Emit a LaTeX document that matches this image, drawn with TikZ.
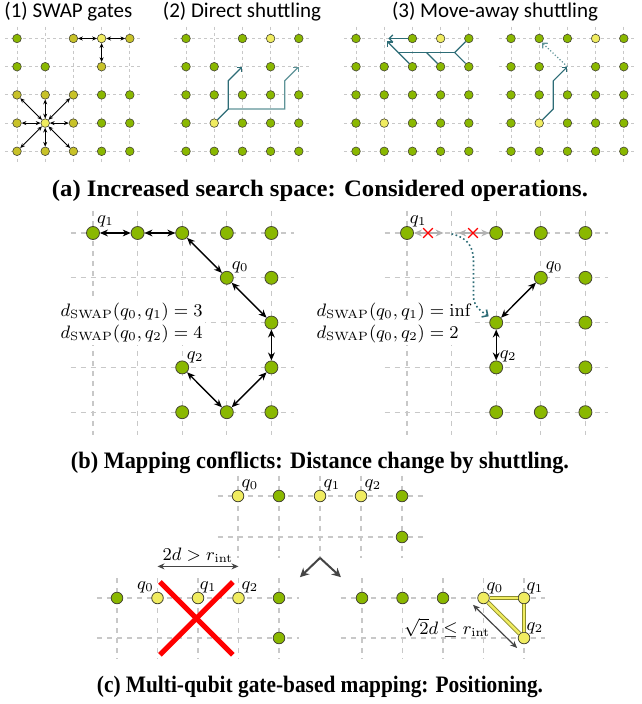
\documentclass[tikz,border=0pt]{standalone}
\usepackage[no-math]{fontspec}
\usetikzlibrary{arrows.meta,shapes.misc}
\newfontfamily\capfont{Liberation Serif}
\newfontfamily\titlefont{Carlito}
\definecolor{qgreen}{RGB}{138,184,0}
\definecolor{qolive}{RGB}{200,194,40}
\definecolor{qyellow}{RGB}{240,236,96}
\definecolor{qborder}{RGB}{70,70,50}
\definecolor{gridgray}{RGB}{200,200,200}
\definecolor{shuttle}{RGB}{45,108,118}
\definecolor{shuttlelight}{RGB}{95,148,152}
\definecolor{darkarrow}{RGB}{68,68,68}
\definecolor{blockedgray}{RGB}{178,178,178}
\definecolor{bandolive}{RGB}{140,140,45}
\tikzset{
  dotA/.style={circle, inner sep=0pt, minimum size=4.3pt, draw=qborder, line width=0.3pt},
  ga/.style={dotA, fill=qgreen}, oa/.style={dotA, fill=qolive}, ya/.style={dotA, fill=qyellow},
  dotB/.style={circle, inner sep=0pt, minimum size=6.5pt, draw=qborder, line width=0.4pt},
  gb/.style={dotB, fill=qgreen},
  dotC/.style={circle, inner sep=0pt, minimum size=5.8pt, draw=qborder, line width=0.4pt},
  gc/.style={dotC, fill=qgreen}, yc/.style={dotC, fill=qyellow},
  gridA/.style={draw=gridgray, line width=0.4pt, dash pattern=on 1.5pt off 1.5pt},
  gridB/.style={draw=gridgray, line width=0.6pt, dash pattern=on 2.5pt off 2.5pt},
  swapA/.style={{Stealth[length=2.4pt,width=2pt]}-{Stealth[length=2.4pt,width=2pt]}, line width=0.45pt, draw=black},
  shutline/.style={draw=shuttle, line width=0.6pt},
  shutA/.style={shutline, -{Straight Barb[length=1.8pt,width=3.6pt]}},
  shutdotA/.style={draw=shuttlelight, line width=0.6pt, dash pattern=on 0.6pt off 1pt, -{Straight Barb[length=1.8pt,width=3.6pt]}},
  swapB/.style={{Stealth[length=4pt,width=3.4pt]}-{Stealth[length=4pt,width=3.4pt]}, line width=0.7pt, draw=black},
  blocked/.style={{Stealth[length=4pt,width=3.4pt]}-{Stealth[length=4pt,width=3.4pt]}, line width=0.7pt, draw=blockedgray},
  redx/.style={cross out, draw=red, minimum size=4.2pt, inner sep=0pt, line width=0.65pt},
  shutdotB/.style={draw=shuttle, line width=0.8pt, dash pattern=on 0.8pt off 1.3pt, -{Straight Barb[length=2.2pt,width=4.4pt]}},
  fork/.style={draw=darkarrow, line width=1pt, -{Stealth[length=4.5pt,width=4.5pt]}},
  measure/.style={draw=darkarrow, line width=0.6pt, {Stealth[length=3.5pt,width=3pt]}-{Stealth[length=3.5pt,width=3pt]}},
  band/.style={draw=bandolive, line width=0.45pt, double=qyellow, double distance=1.2pt},
  bigx/.style={draw=red, line width=2.6pt},
  qlab/.style={inner sep=0pt, font=\fontsize{8.8}{10}\selectfont},
  dtxt/.style={inner sep=1pt, fill=white, align=left, font=\fontsize{8.6}{11}\selectfont},
  mtxt/.style={inner sep=1.5pt, font=\fontsize{8.6}{10}\selectfont},
  titletxt/.style={inner sep=0pt, font=\titlefont\fontsize{10.5}{12}\selectfont},
  captxt/.style={inner sep=0pt, font=\capfont\bfseries\fontsize{11.8}{14}\selectfont},
}
\begin{document}
\begin{tikzpicture}[x=0.5pt,y=-0.5pt]
\useasboundingbox (0,0) rectangle (641,704);

% ---------- (a) considered operations ----------
\node[titletxt, anchor=west] (t1) at (4,12) {(1) SWAP gates};
\node[titletxt] (t2) at (242,12) {(2) Direct shuttling};
\node[titletxt] (t3) at (495,12) {(3) Move-away shuttling};

% SWAP gates
\begin{scope}[shift={(17,38.5)}, x=14.1pt, y=-14.1pt]
  \foreach \i in {0,...,4} {
    \draw[gridA] (\i,-0.42) -- (\i,4.42);
    \draw[gridA] (-0.42,\i) -- (4.42,\i);
  }
  \foreach \c/\r/\s in {0/0/ga,2/0/oa,3/0/ya,4/0/oa,0/1/ga,1/1/ga,3/1/oa,0/2/oa,1/2/oa,2/2/oa,3/2/ga,4/2/ga,0/3/oa,1/3/ya,2/3/oa,3/3/ga,4/3/ga,0/4/oa,1/4/oa,2/4/oa,3/4/ga,4/4/ga}
    \node[\s] (pA-\c-\r) at (\c,\r) {};
  \foreach \t in {2-0,4-0,3-1} \draw[swapA] (pA-3-0) -- (pA-\t);
  \foreach \t in {0-2,1-2,2-2,0-3,2-3,0-4,1-4,2-4} \draw[swapA] (pA-1-3) -- (pA-\t);
\end{scope}

% direct shuttling
\begin{scope}[shift={(186,38.5)}, x=14.1pt, y=-14.1pt]
  \foreach \i in {0,...,4} {
    \draw[gridA] (\i,-0.42) -- (\i,4.42);
    \draw[gridA] (-0.42,\i) -- (4.42,\i);
  }
  \foreach \c/\r/\s in {0/0/ga,2/0/ga,3/0/ya,4/0/ga,0/1/ga,1/1/ga,3/1/ga,0/2/ga,1/2/ga,2/2/ga,3/2/ga,4/2/ga,0/3/ga,1/3/ya,2/3/ga,3/3/ga,4/3/ga,0/4/ga,1/4/ga,2/4/ga,3/4/ga,4/4/ga}
    \node[\s] (pB-\c-\r) at (\c,\r) {};
  \coordinate (pB-k) at (1.5,2.5);
  \coordinate (pB-u) at (1.5,1.5);
  \coordinate (pB-t1) at (2,1);
  \coordinate (pB-r) at (3.5,2.5);
  \coordinate (pB-ru) at (3.5,1.5);
  \coordinate (pB-t2) at (4,1);
  \draw[shutA, draw=shuttlelight] (pB-k) -- (pB-r) -- (pB-ru) -- (pB-t2);
  \draw[shutA] (pB-1-3) -- (pB-k) -- (pB-u) -- (pB-t1);
\end{scope}

% move-away shuttling, clearing the row
\begin{scope}[shift={(356,38.5)}, x=14.1pt, y=-14.1pt]
  \foreach \i in {0,...,4} {
    \draw[gridA] (\i,-0.42) -- (\i,4.42);
    \draw[gridA] (-0.42,\i) -- (4.42,\i);
  }
  \foreach \c/\r/\s in {0/0/ga,2/0/ga,3/0/ya,4/0/ga,0/1/ga,1/1/ga,2/1/ga,3/1/ga,4/1/ga,0/2/ga,1/2/ga,2/2/ga,3/2/ga,4/2/ga,0/3/ga,1/3/ya,2/3/ga,3/3/ga,4/3/ga,0/4/ga,1/4/ga,2/4/ga,3/4/ga,4/4/ga}
    \node[\s] (pC-\c-\r) at (\c,\r) {};
  \coordinate (pC-a) at (1.5,0.5);
  \coordinate (pC-b) at (2.5,0.5);
  \coordinate (pC-c) at (3.5,0.5);
  \coordinate (pC-t) at (1.1,0.1);
  \coordinate (pC-t0) at (1.15,0);
  \draw[shutline] (pC-c) -- (pC-a);
  \draw[shutline] (pC-3-1) -- (pC-b);
  \draw[shutline] (pC-4-1) -- (pC-c);
  \draw[shutline] (pC-4-0) -- (pC-c);
  \draw[shutA] (pC-2-1) -- (pC-t);
  \draw[shutA] (pC-2-0) -- (pC-t0);
\end{scope}

% move-away shuttling, single move
\begin{scope}[shift={(511,38.5)}, x=14.1pt, y=-14.1pt]
  \foreach \i in {0,...,4} {
    \draw[gridA] (\i,-0.42) -- (\i,4.42);
    \draw[gridA] (-0.42,\i) -- (4.42,\i);
  }
  \foreach \c/\r/\s in {0/0/ga,1/0/ga,2/0/ga,3/0/ya,4/0/ga,0/1/ga,1/1/ga,3/1/ga,4/1/ga,0/2/ga,1/2/ga,2/2/ga,3/2/ga,4/2/ga,0/3/ga,1/3/ya,2/3/ga,3/3/ga,4/3/ga,0/4/ga,1/4/ga,2/4/ga,3/4/ga,4/4/ga}
    \node[\s] (pD-\c-\r) at (\c,\r) {};
  \coordinate (pD-k) at (1.5,2.5);
  \coordinate (pD-u) at (1.5,1.5);
  \coordinate (pD-t1) at (2,1);
  \coordinate (pD-t2) at (1.1,0.15);
  \draw[shutA] (pD-1-3) -- (pD-k) -- (pD-u) -- (pD-t1);
  \draw[shutdotA] (pD-t1) -- (pD-t2);
\end{scope}

\node[captxt] (capA) at (320,191) {\scalebox{1.047}[1]{(a) Increased search space: Considered operations.}};

% ---------- (b) mapping conflicts ----------
\begin{scope}[shift={(93,233)}, x=22.3pt, y=-22.4pt]
  \foreach \i in {0,...,4} {
    \draw[gridB] (\i,-0.5) -- (\i,4.5);
    \draw[gridB] (-0.5,\i) -- (4.5,\i);
  }
  \foreach \c/\r in {0/0,1/0,2/0,3/0,4/0,3/1,4/1,4/2,2/3,4/3,2/4,3/4,4/4}
    \node[gb] (bL-\c-\r) at (\c,\r) {};
  \draw[swapB] (bL-0-0) -- (bL-1-0);
  \draw[swapB] (bL-1-0) -- (bL-2-0);
  \draw[swapB] (bL-2-0) -- (bL-3-1);
  \draw[swapB] (bL-3-1) -- (bL-4-2);
  \draw[swapB] (bL-4-2) -- (bL-4-3);
  \draw[swapB] (bL-4-3) -- (bL-3-4);
  \draw[swapB] (bL-3-4) -- (bL-2-3);
  \node[qlab] (bL-q1) at (0.28,-0.25) {$q_1$};
  \node[qlab] (bL-q0) at (3.3,0.76) {$q_0$};
  \node[qlab] (bL-q2) at (2.29,2.78) {$q_2$};
  \node[dtxt, anchor=west] (bL-d) at (-0.78,2) {$d_{\mathrm{SWAP}}(q_0,q_1) = 3$\\$d_{\mathrm{SWAP}}(q_0,q_2) = 4$};
\end{scope}

\begin{scope}[shift={(407,233)}, x=22.3pt, y=-22.4pt]
  \foreach \i in {0,...,4} {
    \draw[gridB] (\i,-0.5) -- (\i,4.5);
    \draw[gridB] (-0.5,\i) -- (4.5,\i);
  }
  \foreach \c/\r in {0/0,2/0,3/0,4/0,3/1,4/1,2/2,4/2,2/3,4/3,2/4,3/4,4/4}
    \node[gb] (bR-\c-\r) at (\c,\r) {};
  \coordinate (bR-m1) at (0.82,0);
  \coordinate (bR-m2) at (1.15,0);
  \draw[blocked] (bR-0-0) -- (bR-m1);
  \draw[blocked] (bR-m2) -- (bR-2-0);
  \node[redx] (bR-x1) at (0.47,0) {};
  \node[redx] (bR-x2) at (1.48,0) {};
  \coordinate (bR-s) at (1.0,0.02);
  \coordinate (bR-p1) at (1.49,0.62);
  \coordinate (bR-p2) at (1.49,1.4);
  \coordinate (bR-e) at (1.83,1.86);
  \draw[shutdotB] (bR-s) .. controls (1.35,0.1) and (1.49,0.3) .. (bR-p1) -- (bR-p2) .. controls (1.49,1.62) and (1.62,1.72) .. (bR-e);
  \draw[swapB] (bR-3-1) -- (bR-2-2);
  \draw[swapB] (bR-2-2) -- (bR-2-3);
  \node[qlab] (bR-q1) at (0.25,-0.25) {$q_1$};
  \node[qlab] (bR-q0) at (3.3,0.76) {$q_0$};
  \node[qlab] (bR-q2) at (2.27,2.76) {$q_2$};
  \node[dtxt, anchor=west] (bR-d) at (-2.08,2) {$d_{\mathrm{SWAP}}(q_0,q_1) = \mathrm{inf}$\\$d_{\mathrm{SWAP}}(q_0,q_2) = 2$};
\end{scope}

\node[captxt] (capB) at (320,463) {\scalebox{0.945}[1]{(b) Mapping conflicts: Distance change by shuttling.}};

% ---------- (c) multi-qubit gate positioning ----------
\begin{scope}[shift={(238,496)}, x=20.5pt, y=-20.5pt]
  \foreach \i in {0,...,4} \draw[gridB] (\i,-0.5) -- (\i,1.5);
  \foreach \i in {0,1} \draw[gridB] (-0.5,\i) -- (4.55,\i);
  \foreach \c/\r/\s in {0/0/yc,1/0/gc,2/0/yc,3/0/yc,4/0/gc,4/1/gc}
    \node[\s] (cT-\c-\r) at (\c,\r) {};
  \node[qlab] (cT-q0) at (0.29,-0.27) {$q_0$};
  \node[qlab] (cT-q1) at (2.29,-0.27) {$q_1$};
  \node[qlab] (cT-q2) at (3.29,-0.27) {$q_2$};
  \coordinate (cT-s) at (2,1.51);
  \coordinate (cT-l) at (1.51,1.98);
  \coordinate (cT-r) at (2.51,1.98);
  \draw[fork] (cT-s) -- (cT-l);
  \draw[fork] (cT-s) -- (cT-r);
\end{scope}

\begin{scope}[shift={(117,598)}, x=20.25pt, y=-20pt]
  \foreach \i in {0,...,4} \draw[gridB] (\i,-0.5) -- (\i,1.52);
  \foreach \i in {0,1} \draw[gridB] (-0.5,\i) -- (4.5,\i);
  \foreach \c/\r/\s in {0/0/gc,1/0/yc,2/0/yc,3/0/yc,4/0/gc,4/1/gc}
    \node[\s] (cL-\c-\r) at (\c,\r) {};
  \node[qlab] (cL-q0) at (0.7,-0.27) {$q_0$};
  \node[qlab] (cL-q1) at (2.25,-0.27) {$q_1$};
  \node[qlab] (cL-q2) at (3.28,-0.27) {$q_2$};
  \coordinate (cL-a1) at (1,-0.79);
  \coordinate (cL-a2) at (3,-0.79);
  \draw[measure] (cL-a1) -- node[above, mtxt] (cL-lab) {$2d > r_{\mathrm{int}}$} (cL-a2);
  \coordinate (cL-x1) at (1.06,-0.4);
  \coordinate (cL-x2) at (2.86,1.42);
  \coordinate (cL-x3) at (2.86,-0.4);
  \coordinate (cL-x4) at (1.06,1.42);
  \draw[bigx] (cL-x1) -- (cL-x2);
  \draw[bigx] (cL-x3) -- (cL-x4);
\end{scope}

\begin{scope}[shift={(362,598)}, x=20.25pt, y=-20pt]
  \foreach \i in {0,...,4} \draw[gridB] (\i,-0.5) -- (\i,1.52);
  \foreach \i in {0,1} \draw[gridB] (-0.52,\i) -- (4.52,\i);
  \foreach \c/\r/\s in {0/0/gc,1/0/gc,2/0/gc,3/0/yc,4/0/yc,4/1/yc}
    \node[\s] (cR-\c-\r) at (\c,\r) {};
  \draw[band] (cR-3-0) -- (cR-4-0);
  \draw[band] (cR-4-0) -- (cR-4-1);
  \draw[band] (cR-3-0) -- (cR-4-1);
  \node[qlab] (cR-q0) at (3.28,-0.25) {$q_0$};
  \node[qlab] (cR-q1) at (4.27,-0.25) {$q_1$};
  \node[qlab] (cR-q2) at (4.27,0.75) {$q_2$};
  \coordinate (cR-a1) at (2.74,0.17);
  \coordinate (cR-a2) at (3.83,1.25);
  \draw[measure] (cR-a1) -- (cR-a2);
  \node[mtxt] (cR-lab) at (2.1,0.75) {$\sqrt{2}d \le r_{\mathrm{int}}$};
\end{scope}

\node[captxt] (capC) at (320,687) {\scalebox{0.905}[1]{(c) Multi-qubit gate-based mapping: Positioning.}};
\end{tikzpicture}
\end{document}
